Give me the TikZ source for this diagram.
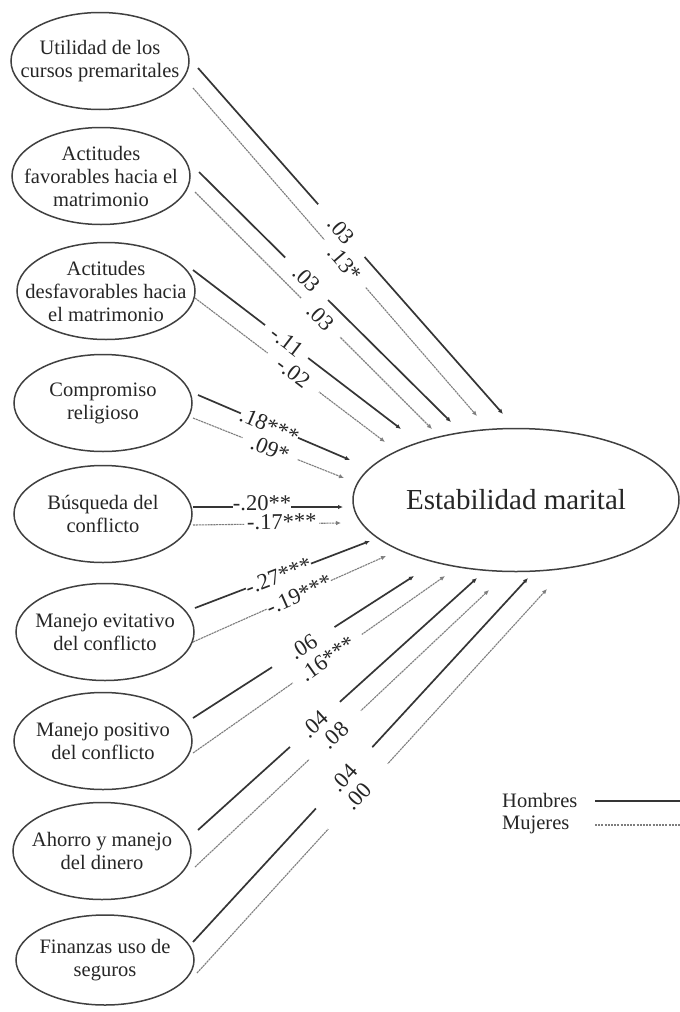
\documentclass[tikz,border=0pt]{standalone}
\usepackage{fontspec}
\setmainfont{Liberation Serif}
\usetikzlibrary{arrows.meta,shapes.geometric}
\definecolor{inkc}{HTML}{262626}
\definecolor{hcol}{HTML}{353535}
\definecolor{mcol}{HTML}{7E7E7E}
\begin{document}
\begin{tikzpicture}[x=1pt,y=-1pt,
  lat/.style={draw=black!75, line width=1.5pt, ellipse, minimum width=178pt, minimum height=97pt, inner sep=0pt},
  ltext/.style={align=center, inner sep=0pt, text=inkc, font=\fontsize{20.5}{23}\selectfont},
  hline/.style={draw=hcol, line width=1.7pt, -{Latex[length=5pt,width=4.5pt]}},
  mline/.style={draw=mcol, line width=1.1pt, dash pattern=on 2.2pt off 0.7pt, -{Latex[length=5pt,width=4.5pt]}},
  lab/.style={sloped, fill=white, inner xsep=0pt, inner ysep=0.5pt, text=inkc, font=\fontsize{22.5}{22.5}\selectfont},
  legtext/.style={inner sep=0pt, text=inkc, font=\fontsize{20.5}{22}\selectfont}
]
\fill[white] (0,0) rectangle (680,1012);
\useasboundingbox (0,0) rectangle (680,1012);

% latent variables (left)
\node[lat, label={[ltext]center:{Utilidad de los\\cursos premaritales}}] (u1) at (100,61) {};
\node[lat, label={[ltext]center:{Actitudes\\favorables hacia el\\matrimonio}}] (u2) at (101,176) {};
\node[lat, label={[ltext]center:{Actitudes\\desfavorables hacia\\el matrimonio}}] (u3) at (106,291) {};
\node[lat, label={[ltext]center:{Compromiso\\religioso}}] (u4) at (103,403) {};
\node[lat, label={[ltext]center:{Búsqueda del\\conflicto}}] (u5) at (103,514) {};
\node[lat, label={[ltext]center:{Manejo evitativo\\del conflicto}}] (u6) at (105,632) {};
\node[lat, label={[ltext]center:{Manejo positivo\\del conflicto}}] (u7) at (103,741) {};
\node[lat, label={[ltext]center:{Ahorro y manejo\\del dinero}}] (u8) at (102,851) {};
\node[lat, minimum height=90pt, label={[ltext]center:{Finanzas uso de\\seguros}}] (u9) at (105,960) {};

% outcome
\node[draw=black!75, line width=1.5pt, ellipse, minimum width=326pt, minimum height=143pt, inner sep=0pt, text=inkc, font=\fontsize{29}{32}\selectfont] (E) at (516,500) {Estabilidad marital};

% paths
\draw[hline] ([shift={(98,7)}]u1.center) -- node[lab, pos=0.47, minimum width=70pt] {.03} ([shift={(-13,-86)}]E.center);
\draw[mline] ([shift={(93,27)}]u1.center) -- node[lab, pos=0.535, minimum width=63pt] {.13*} ([shift={(-39,-84)}]E.center);

\draw[hline] ([shift={(98,-4)}]u2.center) -- node[lab, pos=0.427, minimum width=60pt] {.03} ([shift={(-65,-78)}]E.center);
\draw[mline] ([shift={(94,16)}]u2.center) -- node[lab, pos=0.53, minimum width=55pt] {.03} ([shift={(-84,-71)}]E.center);

\draw[hline] ([shift={(87,-21)}]u3.center) -- node[lab, pos=0.45, minimum width=54pt] {-.11} ([shift={(-115,-71)}]E.center);
\draw[mline] ([shift={(89,7)}]u3.center) -- node[lab, pos=0.517, minimum width=64pt] {-.02} ([shift={(-131,-58)}]E.center);

\draw[hline] ([shift={(95,-8)}]u4.center) -- node[lab, pos=0.47, minimum width=55pt] {.18***} ([shift={(-166,-40)}]E.center);
\draw[mline] ([shift={(90,15)}]u4.center) -- node[lab, pos=0.51, minimum width=59pt] {.09*} ([shift={(-172,-22)}]E.center);

\draw[hline] ([shift={(90,-7)}]u5.center) -- node[lab, pos=0.46, minimum width=50pt, yshift=4pt] {-.20**} ([shift={(-173,7)}]E.center);
\draw[mline] ([shift={(90,11)}]u5.center) -- node[lab, pos=0.6, minimum width=75pt, yshift=2pt] {-.17***} ([shift={(-175,23)}]E.center);

\draw[hline] ([shift={(90,-24)}]u6.center) -- node[lab, pos=0.477, minimum width=57pt] {-.27***} ([shift={(-146,41)}]E.center);
\draw[mline] ([shift={(88,10)}]u6.center) -- node[lab, pos=0.549, minimum width=63pt] {-.19***} ([shift={(-130,56)}]E.center);

\draw[hline] ([shift={(90,-23)}]u7.center) -- node[lab, pos=0.499, minimum width=74pt] {.06} ([shift={(-102,76)}]E.center);
\draw[mline] ([shift={(90,12)}]u7.center) -- node[lab, pos=0.533, minimum width=84pt] {.16***} ([shift={(-71,76)}]E.center);

\draw[hline] ([shift={(96,-21)}]u8.center) -- node[lab, pos=0.419, minimum width=67pt] {.04} ([shift={(-39,78)}]E.center);
\draw[mline] ([shift={(93,16)}]u8.center) -- node[lab, pos=0.476, minimum width=71pt] {.08} ([shift={(-27,90)}]E.center);

\draw[hline] ([shift={(88,-18)}]u9.center) -- node[lab, pos=0.451, minimum width=83pt] {.04} ([shift={(12,78)}]E.center);
\draw[mline] ([shift={(92,13)}]u9.center) -- node[lab, pos=0.46, minimum width=88pt] {.00} ([shift={(31,89)}]E.center);

% legend
\node[legtext, anchor=west] (hom) at (502,800) {Hombres};
\node[legtext, anchor=west] (muj) at (502,825) {Mujeres};
\coordinate (h1) at (595,801);
\coordinate (h2) at (680,801);
\coordinate (m1) at (595,825);
\coordinate (m2) at (680,825);
\draw[draw=hcol, line width=1.7pt] (h1) -- (h2);
\draw[draw=mcol, line width=1.1pt, dash pattern=on 2pt off 1.2pt] (m1) -- (m2);
\end{tikzpicture}
\end{document}
